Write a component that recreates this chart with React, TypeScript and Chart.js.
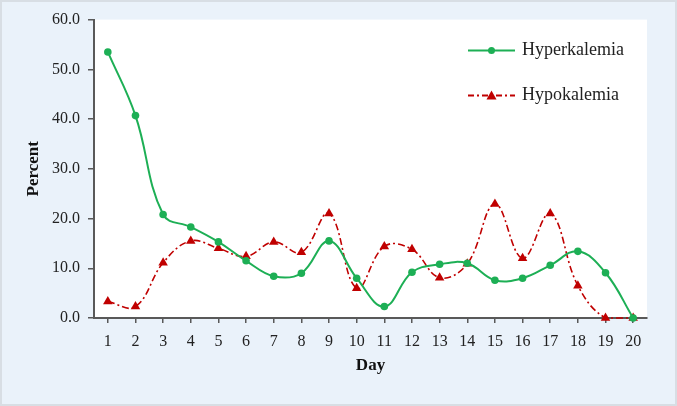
import React, { useEffect, useRef } from "react";
import { Chart, registerables } from "chart.js";

Chart.register(...registerables);

const days = ["1","2","3","4","5","6","7","8","9","10","11","12","13","14","15","16","17","18","19","20"];
const hyperkalemia = [53.5, 40.7, 20.8, 18.3, 15.3, 11.5, 8.4, 9.0, 15.5, 8.0, 2.3, 9.2, 10.8, 11.0, 7.6, 8.0, 10.6, 13.4, 9.1, 0.0];
const hypokalemia = [3.3, 2.3, 11.1, 15.5, 14.0, 12.4, 15.3, 13.2, 21.0, 6.0, 14.4, 13.8, 8.1, 10.9, 22.9, 12.0, 21.0, 6.5, 0.0, 0.0];
const seriesNames = ["Hyperkalemia", "Hypokalemia"];

const GREEN = "#1daf55";
const RED = "#c00000";
const AXIS = "#595959";
const FONT = "'Liberation Serif', 'DejaVu Serif', serif";

const decorPlugin = {
  id: "decor",
  beforeDraw(chart: any) {
    const { ctx, chartArea } = chart;
    ctx.save();
    ctx.fillStyle = "#ffffff";
    ctx.fillRect(chartArea.left, chartArea.top, chartArea.right - chartArea.left, chartArea.bottom - chartArea.top);
    ctx.restore();
  },
  afterDraw(chart: any) {
    const { ctx, chartArea } = chart;
    const x0 = chartArea.right - 179;
    const x1 = x0 + 47;
    const xm = (x0 + x1) / 2;
    const rows = [chartArea.top + 31, chartArea.top + 76];
    ctx.save();
    ctx.strokeStyle = GREEN;
    ctx.lineWidth = 2;
    ctx.beginPath();
    ctx.moveTo(x0, rows[0]);
    ctx.lineTo(x1, rows[0]);
    ctx.stroke();
    ctx.fillStyle = GREEN;
    ctx.beginPath();
    ctx.arc(xm, rows[0], 3.5, 0, Math.PI * 2);
    ctx.fill();
    ctx.strokeStyle = RED;
    ctx.setLineDash([6, 3, 2, 3]);
    ctx.beginPath();
    ctx.moveTo(x0, rows[1]);
    ctx.lineTo(x1, rows[1]);
    ctx.stroke();
    ctx.setLineDash([]);
    ctx.fillStyle = RED;
    ctx.beginPath();
    ctx.moveTo(xm, rows[1] - 5);
    ctx.lineTo(xm + 5, rows[1] + 4);
    ctx.lineTo(xm - 5, rows[1] + 4);
    ctx.closePath();
    ctx.fill();
    ctx.fillStyle = "#222222";
    ctx.font = "18px " + FONT;
    ctx.textBaseline = "middle";
    ctx.textAlign = "left";
    ctx.fillText(seriesNames[0], x1 + 7, rows[0]);
    ctx.fillText(seriesNames[1], x1 + 7, rows[1]);
    ctx.restore();
  },
};

export default function App() {
  const ref = useRef<HTMLCanvasElement>(null);
  useEffect(() => {
    document.body.style.margin = "0";
    const chart = new Chart(ref.current as HTMLCanvasElement, {
      type: "line",
      data: {
        labels: days,
        datasets: [
          {
            label: seriesNames[0],
            data: hyperkalemia,
            borderColor: GREEN,
            backgroundColor: GREEN,
            borderWidth: 2,
            tension: 0.4,
            pointStyle: "circle",
            pointRadius: 3.8,
            pointBorderWidth: 0,
            clip: false,
          },
          {
            label: seriesNames[1],
            data: hypokalemia,
            borderColor: RED,
            backgroundColor: RED,
            borderWidth: 1.6,
            borderDash: [7, 3, 2, 3],
            tension: 0.4,
            pointStyle: "triangle",
            pointRadius: 5.5,
            pointBorderWidth: 0,
            clip: false,
          },
        ],
      },
      options: {
        animation: false,
        responsive: false,
        maintainAspectRatio: false,
        layout: { padding: { left: 0, right: 28, top: 15, bottom: 0 } },
        plugins: { legend: { display: false }, tooltip: { enabled: false } },
        scales: {
          x: {
            offset: true,
            grid: { drawOnChartArea: false, drawTicks: true, tickLength: 5, color: AXIS, lineWidth: 1.5, offset: false },
            border: { display: true, color: AXIS, width: 2 },
            ticks: { color: "#222", font: { family: FONT, size: 16 }, padding: 9, maxRotation: 0, autoSkip: false },
            title: { display: true, text: "Day", color: "#111", font: { family: FONT, size: 17, weight: "bold" }, padding: { top: 0, bottom: 28 } },
            afterFit(scale: any) { scale.height = 86; },
          },
          y: {
            min: 0,
            max: 60,
            ticks: { stepSize: 10, color: "#222", font: { family: FONT, size: 16 }, padding: 8, callback: (v: any) => Number(v).toFixed(1) },
            grid: { drawOnChartArea: false, drawTicks: true, tickLength: 6, color: AXIS, lineWidth: 1.5 },
            border: { display: true, color: AXIS, width: 2 },
            title: { display: true, text: "Percent", color: "#111", font: { family: FONT, size: 17, weight: "bold" }, padding: { top: 21, bottom: 0 } },
            afterFit(scale: any) { scale.width = 92; },
          },
        },
      },
      plugins: [decorPlugin],
    });
    return () => chart.destroy();
  }, []);
  return (
    <div style={{ width: 677, height: 406, boxSizing: "border-box", background: "#eaf2fa", border: "2px solid #d8dee4", position: "relative" }}>
      <canvas ref={ref} width={673} height={402} style={{ display: "block" }} />
    </div>
  );
}
